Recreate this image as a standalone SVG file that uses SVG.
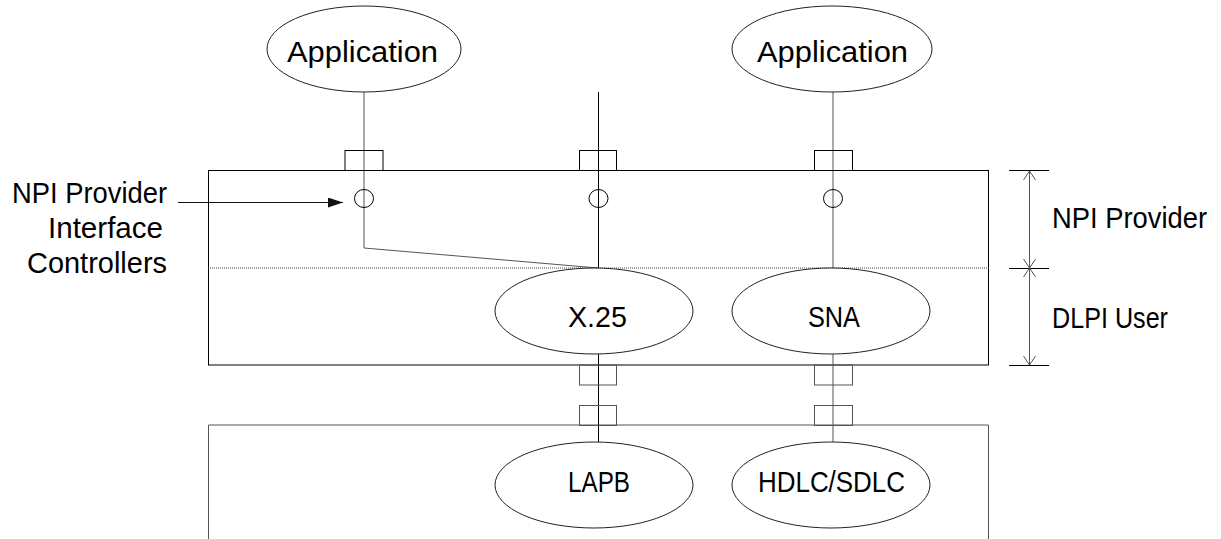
<svg xmlns="http://www.w3.org/2000/svg" width="1221" height="539" viewBox="0 0 1221 539">
<style>
.s{fill:none;stroke:#000;stroke-width:1}
.g{fill:none;stroke:#555;stroke-width:1}
.e{fill:#fff;stroke:#222;stroke-width:1}
text{font-family:"Liberation Sans",Arial,sans-serif;font-size:29px;fill:#000}
</style>
<defs>
<marker id="ah" markerWidth="16" markerHeight="10" refX="15" refY="5" orient="auto" markerUnits="userSpaceOnUse">
<path d="M0,0 L15,5 L0,10 Z" fill="#111"/>
</marker>
</defs>
<g id="provider-box">
<rect x="208.5" y="170.5" width="780" height="194.5" class="s"/>
<line x1="208" y1="268" x2="989" y2="268" stroke="#444" stroke-width="1" stroke-dasharray="1,1"/>
</g>
<g id="lower-box">
<path d="M208.5,560 V425 H988.5 V560" class="g"/>
</g>
<g id="connectors">
<polyline points="364,92 364,248 598,268" class="g"/>
<line x1="598.5" y1="92" x2="598.5" y2="268" class="s"/>
<line x1="833" y1="92" x2="833" y2="268" class="g"/>
<line x1="598.5" y1="354" x2="598.5" y2="442" class="s"/>
<line x1="833" y1="354" x2="833" y2="442" class="g"/>
<line x1="178" y1="202.5" x2="343" y2="202.5" stroke="#111" stroke-width="1" marker-end="url(#ah)"/>
</g>
<g id="ports">
<rect x="345" y="150.5" width="38" height="20" class="s"/>
<rect x="579.5" y="150.5" width="37" height="20" class="s"/>
<rect x="814.5" y="150.5" width="38" height="20" class="s"/>
<rect x="579.5" y="365" width="37" height="20" class="g"/>
<rect x="814.5" y="365" width="38" height="20" class="g"/>
<rect x="579.5" y="405.5" width="37" height="20" class="g"/>
<rect x="814.5" y="405.5" width="38" height="20" class="g"/>
<ellipse cx="364" cy="198.5" rx="9.5" ry="9" class="s"/>
<ellipse cx="598.5" cy="198.5" rx="9.5" ry="9" class="s"/>
<ellipse cx="833" cy="198.5" rx="9.5" ry="9" class="s"/>
</g>
<g id="app-left">
<ellipse cx="364" cy="49" rx="97" ry="43" class="e"/>
<text x="287" y="62" textLength="151" lengthAdjust="spacingAndGlyphs">Application</text>
</g>
<g id="app-right">
<ellipse cx="832" cy="49" rx="100" ry="43" class="e"/>
<text x="757" y="62" textLength="151" lengthAdjust="spacingAndGlyphs">Application</text>
</g>
<g id="x25">
<ellipse cx="594" cy="311" rx="99" ry="43" class="e"/>
<text x="568" y="327" textLength="59" lengthAdjust="spacingAndGlyphs">X.25</text>
</g>
<g id="sna">
<ellipse cx="831" cy="311" rx="99" ry="43" class="e"/>
<text x="808" y="327" textLength="52" lengthAdjust="spacingAndGlyphs">SNA</text>
</g>
<g id="lapb">
<ellipse cx="594" cy="485" rx="99" ry="43" class="e"/>
<text x="568" y="492" textLength="62" lengthAdjust="spacingAndGlyphs">LAPB</text>
</g>
<g id="hdlc">
<ellipse cx="831" cy="485" rx="99" ry="43" class="e"/>
<text x="758" y="492" textLength="147" lengthAdjust="spacingAndGlyphs">HDLC/SDLC</text>
</g>
<g id="npi-label">
<text x="12" y="203" textLength="155" lengthAdjust="spacingAndGlyphs">NPI Provider</text>
<text x="48" y="238" textLength="115" lengthAdjust="spacingAndGlyphs">Interface</text>
<text x="27" y="273" textLength="140" lengthAdjust="spacingAndGlyphs">Controllers</text>
</g>
<g id="dimension">
<line x1="1009" y1="170.5" x2="1049" y2="170.5" class="s"/>
<line x1="1009" y1="268.5" x2="1049" y2="268.5" class="s"/>
<line x1="1009" y1="365.5" x2="1049" y2="365.5" class="s"/>
<line x1="1029.5" y1="171" x2="1029.5" y2="365" class="g"/>
<polyline points="1023.5,180 1029.5,171 1035.5,180" class="g"/>
<polyline points="1023.5,259 1029.5,268 1035.5,259" class="g"/>
<polyline points="1023.5,277 1029.5,268 1035.5,277" class="g"/>
<polyline points="1023.5,356 1029.5,365 1035.5,356" class="g"/>
<text x="1052" y="228" textLength="155" lengthAdjust="spacingAndGlyphs">NPI Provider</text>
<text x="1052" y="328" textLength="116" lengthAdjust="spacingAndGlyphs">DLPI User</text>
</g>
</svg>
